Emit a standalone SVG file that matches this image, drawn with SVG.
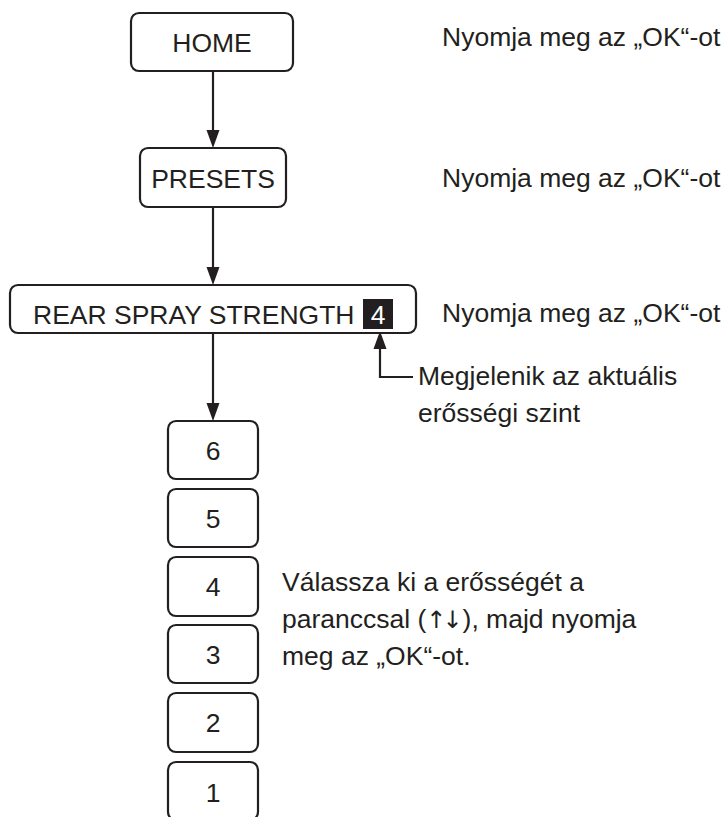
<svg xmlns="http://www.w3.org/2000/svg" width="725" height="817" viewBox="0 0 725 817">
<defs>
<style>
.box{fill:#fff;stroke:#231f20;stroke-width:2.2}
.t{font-family:"Liberation Sans",Arial,sans-serif;font-size:26.5px;fill:#231f20}
.c{text-anchor:middle}
.ln{stroke:#231f20;stroke-width:2.2;fill:none}
.hd{fill:#231f20}
.ar{font-family:"DejaVu Sans","Liberation Sans",sans-serif;font-size:24px;letter-spacing:-4px}
</style>
</defs>
<rect width="725" height="817" fill="#fff"/>
<g id="connectors">
<path class="ln" d="M213,72 V130"/>
<path class="hd" d="M206.5,130 L219.5,130 L213,148 Z"/>
<path class="ln" d="M213,208 V267"/>
<path class="hd" d="M206.5,267 L219.5,267 L213,285 Z"/>
<path class="ln" d="M213,334 V403"/>
<path class="hd" d="M206.5,403 L219.5,403 L213,421 Z"/>
<path class="ln" d="M380,347 V377 H413"/>
<path class="hd" d="M373.5,349 L386.5,349 L380,331 Z"/>
</g>
<g id="home">
<rect class="box" x="131" y="13" width="162" height="58" rx="8"/>
<text class="t c" x="212" y="52">HOME</text>
</g>
<g id="presets">
<rect class="box" x="140" y="148" width="146" height="59" rx="8"/>
<text class="t c" x="213" y="188">PRESETS</text>
</g>
<g id="rear">
<rect class="box" x="10" y="285" width="406" height="48" rx="8"/>
<text class="t" x="33" y="324">REAR SPRAY STRENGTH</text>
<rect x="363" y="299" width="30" height="30" fill="#231f20"/>
<text class="t c" x="378" y="324" style="fill:#fff">4</text>
</g>
<g id="lvl6"><rect class="box" x="168" y="421" width="90" height="58" rx="8"/><text class="t c" x="213" y="460">6</text></g>
<g id="lvl5"><rect class="box" x="168" y="489" width="90" height="58" rx="8"/><text class="t c" x="213" y="528">5</text></g>
<g id="lvl4"><rect class="box" x="168" y="557" width="90" height="59" rx="8"/><text class="t c" x="213" y="596">4</text></g>
<g id="lvl3"><rect class="box" x="168" y="625" width="90" height="58" rx="8"/><text class="t c" x="213" y="664">3</text></g>
<g id="lvl2"><rect class="box" x="168" y="693" width="90" height="59" rx="8"/><text class="t c" x="213" y="732">2</text></g>
<g id="lvl1"><rect class="box" x="168" y="762" width="90" height="58" rx="8"/><text class="t c" x="213" y="802">1</text></g>
<g id="notes">
<text class="t" x="442" y="46">Nyomja meg az „OK“-ot</text>
<text class="t" x="442" y="187">Nyomja meg az „OK“-ot</text>
<text class="t" x="442" y="322">Nyomja meg az „OK“-ot</text>
<text class="t" x="418" y="385">Megjelenik az aktuális</text>
<text class="t" x="418" y="422">erősségi szint</text>
<text class="t" x="282" y="591">Válassza ki a erősségét a</text>
<text class="t" x="282" y="628">paranccsal (<tspan class="ar">↑↓</tspan><tspan dx="4">), majd nyomja</tspan></text>
<text class="t" x="282" y="665">meg az „OK“-ot.</text>
</g>
</svg>
